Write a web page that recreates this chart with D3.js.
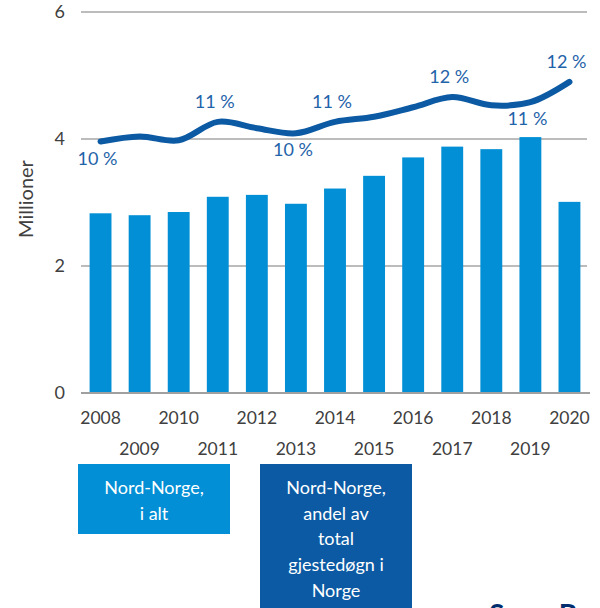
<!DOCTYPE html>
<html>
<head>
<meta charset="utf-8">
<script src="https://cdn.jsdelivr.net/npm/d3@7"></script>
<style>
  html, body { margin: 0; padding: 0; background: #fff; }
  svg { display: block; font-family: Lato, "Open Sans", sans-serif; }
</style>
</head>
<body>
<svg id="chart" width="600" height="608"></svg>
<script>
// ---- data ----
const years = ["2008","2009","2010","2011","2012","2013","2014","2015","2016","2017","2018","2019","2020"];
const totalNights = [2.83, 2.80, 2.85, 3.09, 3.12, 2.98, 3.22, 3.42, 3.71, 3.88, 3.84, 4.03, 3.01]; // millioner
const shareLine = [3.96, 4.04, 3.98, 4.27, 4.17, 4.09, 4.27, 4.35, 4.50, 4.66, 4.53, 4.58, 4.90]; // plotted on hidden secondary axis
const shareLabelYears = ["2008","2011","2013","2014","2017","2019","2020"];
const shareLabelTexts = ["10 %","11 %","10 %","11 %","12 %","11 %","12 %"];
const shareLabelSide = ["below","above","below","above","above","below","above"];
const yTicks = [0, 2, 4, 6];
const legendItems = [
  { lines: ["Nord-Norge,", "i alt"] },
  { lines: ["Nord-Norge,", "andel av", "total", "gjestedøgn i", "Norge"] }
];

// ---- layout ----
const svg = d3.select("#chart");
const plot = { left: 81, right: 589, top: 12, bottom: 393 };
const barColor = "#038fd5";
const lineColor = "#0b5aa3";
const labelColor = "#1f63a9";
const textColor = "#404040";

const x = d3.scaleBand().domain(years).range([plot.left, plot.right]).paddingInner(0.44).paddingOuter(0.22);
const y = d3.scaleLinear().domain([0, 6]).range([plot.bottom, plot.top]);
const y2 = d3.scaleLinear().domain([0, 6]).range([plot.bottom, plot.top]);

// gridlines
svg.append("g")
  .selectAll("line").data(yTicks.filter(d => d > 0)).join("line")
  .attr("x1", plot.left).attr("x2", plot.right - 2)
  .attr("y1", d => y(d)).attr("y2", d => y(d))
  .attr("stroke", "#a6a6a6").attr("stroke-width", 1.3);

// y axis labels
const yAxis = d3.axisLeft(y).tickValues(yTicks).tickSize(0).tickPadding(16).tickFormat(d3.format("d"));
const yg = svg.append("g").attr("transform", `translate(${plot.left},0)`).call(yAxis);
yg.select(".domain").remove();
yg.selectAll("text").attr("font-size", 18).attr("fill", textColor).attr("font-family", "Lato, sans-serif");

// y title
svg.append("text")
  .attr("transform", `translate(33,199) rotate(-90)`)
  .attr("text-anchor", "middle")
  .attr("font-size", 20).attr("fill", textColor)
  .text("Millioner");

// bars
svg.append("g").selectAll("rect").data(years).join("rect")
  .attr("x", d => x(d))
  .attr("width", x.bandwidth())
  .attr("y", (d, i) => y(totalNights[i]))
  .attr("height", (d, i) => y(0) - y(totalNights[i]))
  .attr("fill", barColor);

// x axis baseline
svg.append("line")
  .attr("x1", plot.left).attr("x2", plot.right + 1)
  .attr("y1", y(0)).attr("y2", y(0))
  .attr("stroke", "#a0a0a0").attr("stroke-width", 2);

// x labels (staggered)
const xAxis = d3.axisBottom(x).tickSize(0).tickPadding(0);
const xg = svg.append("g").attr("transform", `translate(0,${y(0)})`).call(xAxis);
xg.select(".domain").remove();
xg.selectAll("text")
  .attr("font-size", 17.5).attr("fill", textColor).attr("font-family", "Lato, sans-serif")
  .attr("dy", null)
  .attr("y", (d, i) => i % 2 === 0 ? 31 : 62);

// line
const line = d3.line()
  .x((d, i) => x(years[i]) + x.bandwidth() / 2)
  .y(d => y2(d))
  .curve(d3.curveCatmullRom.alpha(0.5));
svg.append("path")
  .datum(shareLine)
  .attr("d", line)
  .attr("fill", "none")
  .attr("stroke", lineColor)
  .attr("stroke-width", 6)
  .attr("stroke-linecap", "round")
  .attr("stroke-linejoin", "round");

// line labels
svg.append("g").selectAll("text").data(shareLabelYears).join("text")
  .attr("x", d => x(d) + x.bandwidth() / 2 - 3)
  .attr("y", (d, i) => {
    const v = shareLine[years.indexOf(d)];
    return shareLabelSide[i] === "above" ? y2(v) - 14 : y2(v) + 23;
  })
  .attr("text-anchor", "middle")
  .attr("font-size", 18).attr("fill", labelColor)
  .text((d, i) => shareLabelTexts[i]);

// legend boxes
const legendBoxes = [
  { x: 78, y: 464, w: 152, h: 70, fill: barColor },
  { x: 260, y: 464, w: 152, h: 150, fill: lineColor }
];
legendItems.forEach((item, k) => {
  const b = legendBoxes[k];
  svg.append("rect").attr("x", b.x).attr("y", b.y).attr("width", b.w).attr("height", b.h).attr("fill", b.fill);
  svg.append("g").selectAll("text").data(item.lines).join("text")
    .attr("x", b.x + b.w / 2)
    .attr("y", (d, i) => b.y + 30 + i * 25.7)
    .attr("text-anchor", "middle")
    .attr("font-size", 18).attr("fill", "#ffffff")
    .text(d => d);
});

// cut-off logo text at bottom right (only its top edge shows, as in the reference)
svg.append("text")
  .attr("x", 489).attr("y", 625)
  .attr("font-size", 28).attr("font-weight", "bold")
  .attr("fill", "#002d6e")
  .text("SpareBank 1");
</script>
</body>
</html>
